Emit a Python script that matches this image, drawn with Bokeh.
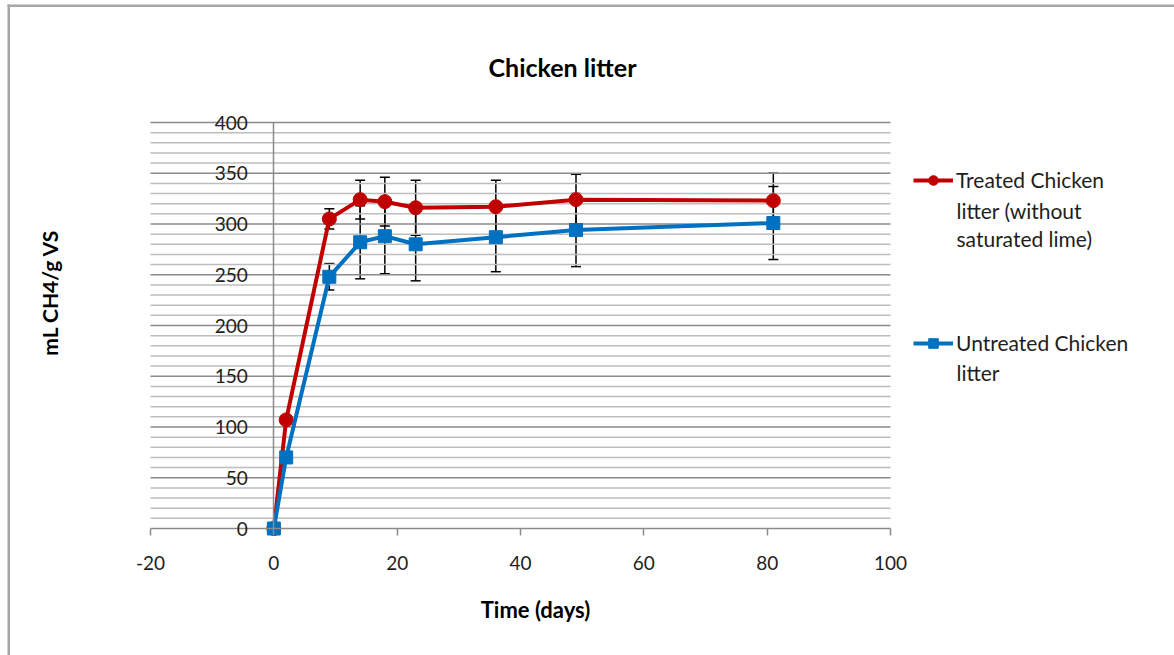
from math import pi

from bokeh.embed import file_html
from bokeh.models import (BoxAnnotation, ColumnDataSource, Label, Legend,
                          LegendItem, Range1d, SingleIntervalTicker, TeeHead,
                          Whisker)
from bokeh.plotting import figure
from bokeh.resources import INLINE

# Cumulative methane yield over time (mL CH4 / g VS)
days = [0, 2, 9, 14, 18, 23, 36, 49, 81]
treated = [0, 107, 305, 324, 322, 316, 317, 324, 323]
treated_err = [0, 0, 10, 19, 24, 27, 26, 25, 27]
untreated = [0, 70, 248, 282, 288, 280, 287, 294, 301]
untreated_err = [0, 0, 13, 36, 37, 36, 34, 36, 36]

x_ticks = [-20, 0, 20, 40, 60, 80, 100]
x_tick_labels = ["-20", "0", "20", "40", "60", "80", "100"]
y_major_step = 50
y_minor_step = 10
treated_lines = ["Treated Chicken", "litter  (without", "saturated lime)"]
untreated_lines = ["Untreated Chicken", "litter"]

RED = "#C00000"
BLUE = "#0070C0"
GRID_MAJOR = "#8a8a8a"
GRID_MINOR = "#bdbdbd"
TEXT = "#1e1e1e"
FONT = "Lato"

# Page geometry: the plotting frame fills the whole canvas, and the data
# window (-20..100, 0..400) sits inside it.
W, H = 1174, 655
PLOT_L, PLOT_R, PLOT_T, PLOT_B = 150, 890, 122, 528
X_MIN, X_MAX, Y_MIN, Y_MAX = -20, 100, 0, 400
SX = (PLOT_R - PLOT_L) / (X_MAX - X_MIN)
SY = (PLOT_B - PLOT_T) / (Y_MAX - Y_MIN)


def px_x(px):
    return X_MIN + (px - PLOT_L) / SX


def px_y(py):
    return Y_MIN + (PLOT_B - py) / SY


p = figure(
    width=W, height=H,
    min_border=0, min_border_left=0, min_border_right=0,
    min_border_top=0, min_border_bottom=0,
    x_range=Range1d(px_x(0), px_x(W)), y_range=Range1d(px_y(H), px_y(0)),
    output_backend="svg", toolbar_location=None,
    background_fill_color="white", border_fill_color="white",
)
p.outline_line_color = None
p.xgrid.visible = False
p.ygrid.visible = False

# horizontal gridlines over the data window only
minor_levels = [v for v in range(Y_MIN, Y_MAX + 1, y_minor_step)
                if v % y_major_step != 0]
major_levels = list(range(Y_MIN + y_major_step, Y_MAX + 1, y_major_step))
p.segment(x0=[X_MIN] * len(minor_levels), x1=[X_MAX] * len(minor_levels),
          y0=minor_levels, y1=minor_levels,
          line_color=GRID_MINOR, line_width=1.5)
p.segment(x0=[X_MIN] * len(major_levels), x1=[X_MAX] * len(major_levels),
          y0=major_levels, y1=major_levels,
          line_color=GRID_MAJOR, line_width=1.5)

# axes cross at the origin
p.xaxis.fixed_location = 0
p.yaxis.fixed_location = 0
p.xaxis.bounds = (X_MIN, X_MAX)
p.yaxis.bounds = (Y_MIN, Y_MAX)
p.xaxis.ticker = x_ticks
p.xaxis.major_label_overrides = dict(zip(x_ticks, x_tick_labels))
p.yaxis.ticker = SingleIntervalTicker(interval=y_major_step)
for ax in (p.xaxis, p.yaxis):
    ax.axis_line_color = GRID_MAJOR
    ax.axis_line_width = 1.5
    ax.major_tick_line_color = GRID_MAJOR
    ax.major_tick_line_width = 1.5
    ax.minor_tick_line_color = None
    ax.major_label_text_font = FONT
    ax.major_label_text_font_size = "19px"
    ax.major_label_text_color = TEXT
p.xaxis.major_tick_out = 7
p.xaxis.major_tick_in = 0
p.xaxis.major_label_standoff = 20
p.yaxis.major_tick_out = 0
p.yaxis.major_tick_in = 0
p.yaxis.major_label_standoff = 22

src_t = ColumnDataSource(dict(
    x=days, y=treated,
    lo=[v - e for v, e in zip(treated, treated_err)],
    hi=[v + e for v, e in zip(treated, treated_err)],
))
src_u = ColumnDataSource(dict(
    x=days, y=untreated,
    lo=[v - e for v, e in zip(untreated, untreated_err)],
    hi=[v + e for v, e in zip(untreated, untreated_err)],
))

# standard-deviation error bars
for src in (src_t, src_u):
    w = Whisker(
        base="x", lower="lo", upper="hi", source=src,
        line_color="black", line_width=1.5,
        lower_head=TeeHead(size=10, line_color="black", line_width=1.5),
        upper_head=TeeHead(size=10, line_color="black", line_width=1.5),
    )
    p.add_layout(w)

l_t = p.line("x", "y", source=src_t, line_color=RED, line_width=4)
m_t = p.scatter("x", "y", source=src_t, marker="circle", size=14,
                fill_color=RED, line_color=RED)
l_u = p.line("x", "y", source=src_u, line_color=BLUE, line_width=4)
m_u = p.scatter("x", "y", source=src_u, marker="square", size=13,
                fill_color=BLUE, line_color=BLUE)

# legend: first line of each entry sits beside its key, the rest wraps below
LEG_LINE = 28.5
legend = Legend(
    items=[LegendItem(label=treated_lines[0], renderers=[l_t, m_t]),
           LegendItem(label=untreated_lines[0], renderers=[l_u, m_u])],
    location=(913, H - 355),
    glyph_width=40, glyph_height=24, label_standoff=3, label_height=24,
    padding=0, margin=0, spacing=138,
    border_line_color=None, background_fill_alpha=0,
    label_text_font=FONT, label_text_font_size="21px",
    label_text_color=TEXT,
)
p.add_layout(legend, "center")

for first_y, lines in ((181, treated_lines), (343, untreated_lines)):
    for i, txt in enumerate(lines[1:], start=1):
        p.add_layout(Label(x=px_x(956), y=px_y(first_y + i * LEG_LINE),
                           text=txt, text_align="left",
                           text_baseline="middle", text_font=FONT,
                           text_font_size="21px", text_color=TEXT))

# chart and axis titles
p.add_layout(Label(x=px_x(562), y=px_y(66), text="Chicken litter",
                   text_align="center", text_baseline="middle",
                   text_font=FONT, text_font_size="25px",
                   text_font_style="bold", text_color="black"))
p.add_layout(Label(x=px_x(535), y=px_y(609), text="Time (days)",
                   text_align="center", text_baseline="middle",
                   text_font=FONT, text_font_size="22px",
                   text_font_style="bold", text_color="black"))
p.add_layout(Label(x=px_x(49), y=px_y(292), text="mL CH4/g VS",
                   angle=pi / 2, text_align="center", text_baseline="middle",
                   text_font=FONT, text_font_size="21px",
                   text_font_style="bold", text_color="black"))

# chart area border (top and left edges)
p.add_layout(BoxAnnotation(left=px_x(7), right=px_x(W), top=px_y(4),
                           bottom=px_y(6.5), fill_color="#a6a6a6",
                           fill_alpha=1, line_color=None))
p.add_layout(BoxAnnotation(left=px_x(7), right=px_x(9.5), top=px_y(4),
                           bottom=px_y(H), fill_color="#a6a6a6",
                           fill_alpha=1, line_color=None))

open("out.html", "w").write(file_html(p, INLINE))
